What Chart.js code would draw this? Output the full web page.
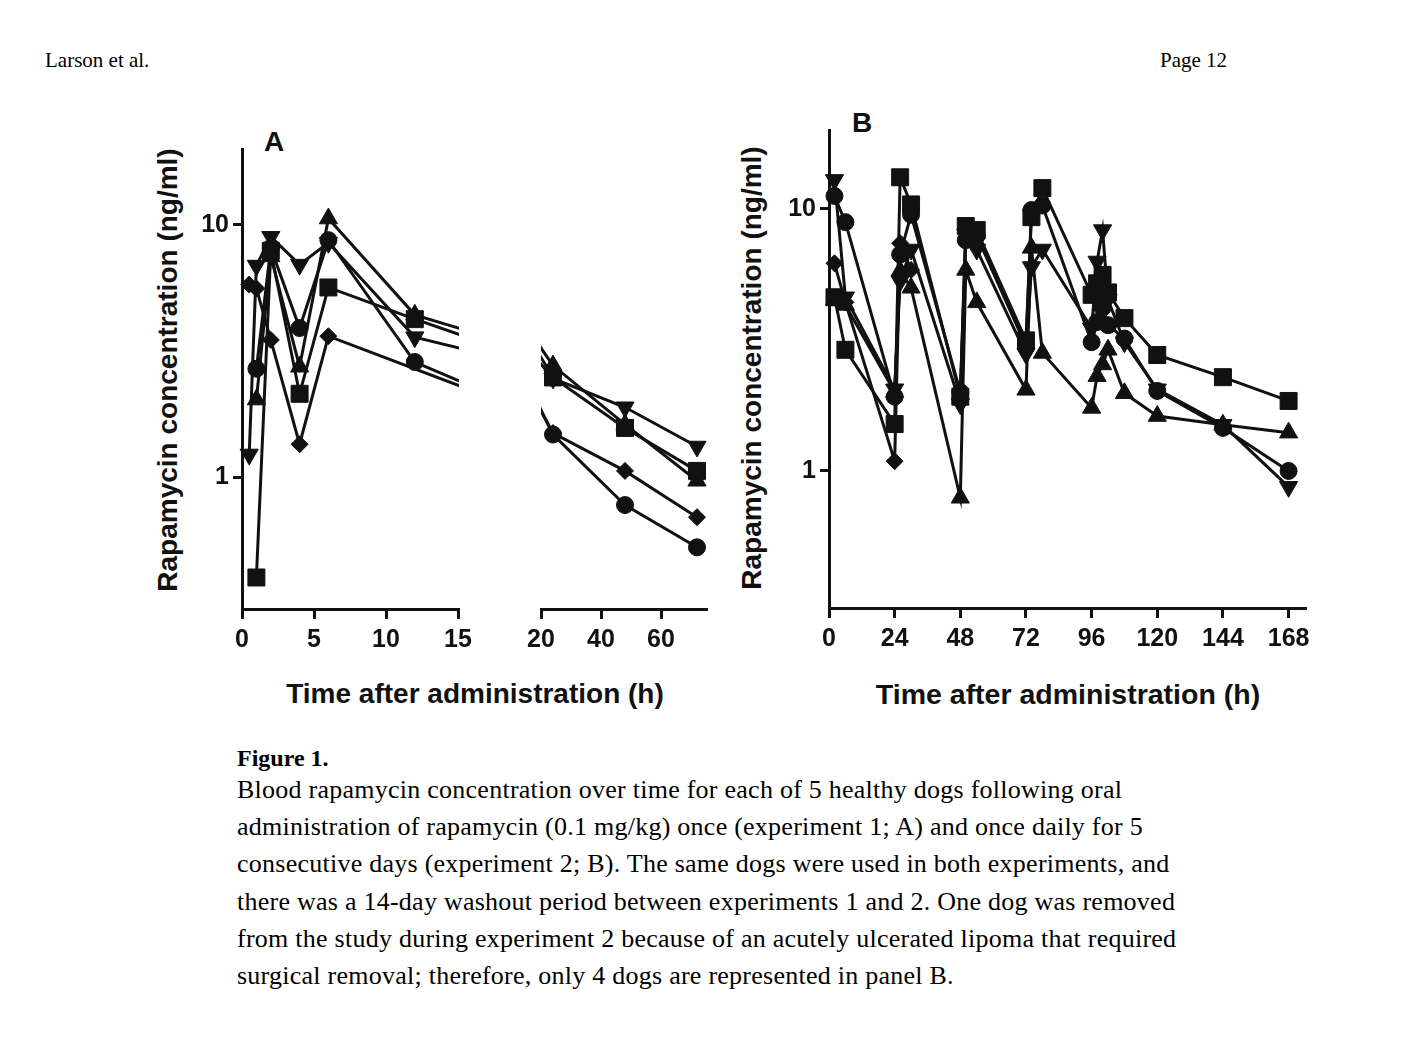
<!DOCTYPE html>
<html>
<head>
<meta charset="utf-8">
<script src="https://cdn.jsdelivr.net/npm/chart.js@4.4.1/dist/chart.umd.min.js"></script>
<style>
  body { margin: 0; background: #fff; }
  #page { position: relative; width: 1418px; height: 1061px; background: #fff; color: #000;
          font-family: "Liberation Serif", "Times New Roman", serif; overflow: hidden; }
  .abs { position: absolute; }
  .hdr { font-size: 21px; line-height: 1; }
  .lbl { font-family: "Liberation Sans", Arial, sans-serif; font-weight: bold; font-size: 28px;
         color: #111; white-space: nowrap; line-height: 1; transform: translate(-50%, -50%); }
  .ytitle { transform: translate(-50%, -50%) rotate(-90deg); }
  .cap { left: 237px; white-space: nowrap; }
</style>
</head>
<body>
<div id="page">
  <div class="abs hdr" style="left:45px;top:50px">Larson et al.</div>
  <div class="abs hdr" style="left:1160px;top:50px">Page 12</div>

  <div class="abs lbl" style="left:274px;top:142px">A</div>
  <div class="abs lbl" style="left:862px;top:123px">B</div>
  <div class="abs lbl ytitle" style="left:168px;top:370px">Rapamycin concentration (ng/ml)</div>
  <div class="abs lbl ytitle" style="left:752px;top:368px">Rapamycin concentration (ng/ml)</div>
  <div class="abs lbl" style="left:475px;top:694px">Time after administration (h)</div>
  <div class="abs lbl" style="left:1068px;top:694px;font-size:28.5px">Time after administration (h)</div>

  <div class="abs" style="left:150px;top:130px;width:330px;height:540px"><canvas id="chart-a1"></canvas></div>
  <div class="abs" style="left:521px;top:130px;width:199px;height:540px"><canvas id="chart-a2"></canvas></div>
  <div class="abs" style="left:740px;top:110px;width:580px;height:560px"><canvas id="chart-b"></canvas></div>

  <div class="abs cap" style="top:740px;font-size:24px;line-height:36px;font-weight:bold">Figure 1.</div>
  <div class="abs cap" style="top:771px;font-size:26px;letter-spacing:0.25px;line-height:37.2px">
    Blood rapamycin concentration over time for each of 5 healthy dogs following oral<br>
    administration of rapamycin (0.1 mg/kg) once (experiment 1; A) and once daily for 5<br>
    consecutive days (experiment 2; B). The same dogs were used in both experiments, and<br>
    there was a 14-day washout period between experiments 1 and 2. One dog was removed<br>
    from the study during experiment 2 because of an acutely ulcerated lipoma that required<br>
    surgical removal; therefore, only 4 dogs are represented in panel B.
  </div>
</div>

<script>
// ---- data: panel A (single dose), hours / ng/ml ----
const timesA = [0.5, 1, 2, 4, 6, 12, 24, 48, 72];
const aCircle   = [null, 2.69, 8.1, 3.9, 8.7, 2.86, 1.46, 0.77, 0.525];
const aSquare   = [null, 0.40, 7.9, 2.14, 5.65, 4.23, 2.45, 1.55, 1.05];
const aTriangle = [null, 2.03, 7.5, 2.74, 10.6, 4.4, 2.73, 1.6, 0.96];
const aInvTri   = [1.23, 6.9, 8.97, 6.96, 8.5, 3.59, 2.43, 1.87, 1.31];
const aDiamond  = [5.8, 5.6, 3.5, 1.35, 3.62, null, 1.48, 1.05, 0.69];

// ---- data: panel B (once daily x5) ----
const timesB = [2, 6, 24, 26, 30, 48, 50, 54, 72, 74, 78, 96, 98, 100, 102, 108, 120, 144, 168];
const bCircle   = [11.2, 8.9, 1.92, 6.7, 9.5, 2.0, 7.6, 7.9, 3.0, 9.9, 10.3, 3.1, 3.7, 4.2, 3.6, 3.2, 2.02, 1.46, 1.0];
const bSquare   = [4.6, 2.9, 1.51, 13.2, 10.4, 1.92, 8.6, 8.3, 3.15, 9.3, 12.0, 4.7, 5.2, 5.6, 4.8, 3.83, 2.77, 2.28, 1.85];
const bTriangle = [4.5, 4.3, 2.0, 5.8, 5.0, 0.79, 5.85, 4.4, 2.04, 7.1, 2.82, 1.74, 2.3, 2.55, 2.9, 1.98, 1.62, 1.5, 1.4];
const bInvTri   = [12.9, 4.6, 2.05, 5.3, 7.0, 1.8, 8.0, 7.0, 2.8, 6.0, 7.0, 3.5, 6.3, 8.3, 4.5, 3.1, 2.05, 1.5, 0.87];
const bDiamond  = [6.2, 4.4, 1.09, 7.4, 5.85, null, null, null, null, null, null, null, null, null, null, null, null, null, null];

const yTicks   = [1, 10];
const xTicksA1 = [0, 5, 10, 15];
const xTicksA2 = [20, 40, 60];
const xTicksB  = [0, 24, 48, 72, 96, 120, 144, 168];

const INK = '#111';
const tickFont = { family: '"Liberation Sans", Arial, sans-serif', size: 25, weight: 'bold' };

const markers = [
  { style: 'circle',   rot: 0,   r: 8.5 },
  { style: 'rect',     rot: 0,   r: 12 },
  { style: 'triangle', rot: 0,   r: 10.5 },
  { style: 'triangle', rot: 180, r: 10.5 },
  { style: 'rectRot',  rot: 0,   r: 8.5 },
];

function buildSets(times, series, clip) {
  return series.map((vals, k) => ({
    data: times.map((t, i) => ({ x: t, y: vals[i] })).filter(p => p.y != null),
    borderColor: INK, backgroundColor: INK, borderWidth: 3,
    pointStyle: markers[k].style, pointRotation: markers[k].rot, pointRadius: markers[k].r,
    pointBorderWidth: 1, pointBorderColor: INK, pointBackgroundColor: INK,
    tension: 0, clip: clip,
  }));
}

function yScale(show, w) {
  return {
    type: 'logarithmic', min: 0.3, max: 20, display: show,
    afterBuildTicks: s => { s.ticks = yTicks.map(v => ({ value: v })); },
    afterFit: s => { s.width = w; },
    ticks: { font: tickFont, color: INK, padding: 4, callback: v => String(v) },
    grid: { drawOnChartArea: false, color: INK, lineWidth: 3, tickLength: 9 },
    border: { color: INK, width: 3 },
  };
}

function xScale(min, max, ticks, h) {
  return {
    type: 'linear', min: min, max: max,
    afterBuildTicks: s => { s.ticks = ticks.map(v => ({ value: v })); },
    afterFit: s => { s.height = h; },
    ticks: { font: tickFont, color: INK, padding: 6, maxRotation: 0, autoSkip: false },
    grid: { drawOnChartArea: false, color: INK, lineWidth: 3, tickLength: 10 },
    border: { color: INK, width: 3 },
  };
}

function draw(id, sets, xs, ys, padding) {
  new Chart(document.getElementById(id), {
    type: 'line',
    data: { datasets: sets },
    options: {
      responsive: true, maintainAspectRatio: false, animation: false, events: [],
      layout: { padding: padding },
      plugins: { legend: { display: false }, tooltip: { enabled: false } },
      scales: { x: xs, y: ys },
    },
  });
}

const seriesA = [aCircle, aSquare, aTriangle, aInvTri, aDiamond];
const seriesB = [bCircle, bSquare, bTriangle, bInvTri, bDiamond];

draw('chart-a1', buildSets(timesA, seriesA, { left: 14, top: 12, right: 1, bottom: 12 }),
     xScale(0, 15, xTicksA1, 61), yScale(true, 92), { top: 16, right: 22, left: 0, bottom: 0 });
draw('chart-a2', buildSets(timesA, seriesA, { left: 0, top: 12, right: 14, bottom: 12 }),
     xScale(20, 75, xTicksA2, 61), yScale(false, 0), { top: 16, right: 14, left: 20, bottom: 0 });
draw('chart-b', buildSets(timesB, seriesB, { left: 14, top: 12, right: 14, bottom: 12 }),
     xScale(0, 174, xTicksB, 62), yScale(true, 89), { top: 20, right: 15, left: 0, bottom: 0 });
</script>
</body>
</html>
